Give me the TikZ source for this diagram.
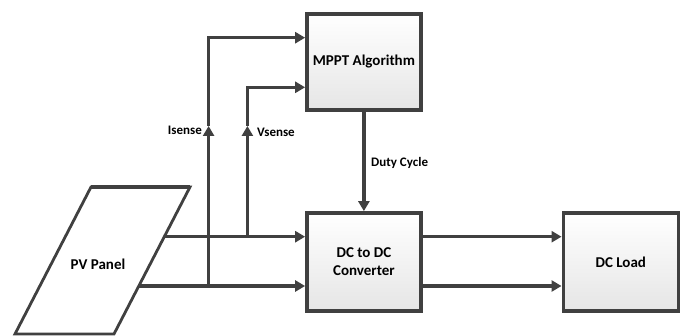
\documentclass[tikz,border=0pt]{standalone}
\usepackage{fontspec}
\setmainfont{Carlito}
\usetikzlibrary{arrows.meta}
\definecolor{ln}{HTML}{404040}
\tikzset{
  blk/.style={draw=ln, line width=3.5pt, top color=white, bottom color=black!10, minimum width=114pt, minimum height=96pt, inner sep=2pt, align=center, font=\fontsize{15}{18}\selectfont\bfseries},
  wire/.style={draw=ln, line width=3.5pt},
  arr/.style={wire, -{Triangle[length=10pt,width=11pt]}},
  lbl/.style={font=\fontsize{13}{15}\selectfont\bfseries, inner sep=0pt}
}
\begin{document}
\begin{tikzpicture}[x=1pt,y=-1pt]
\useasboundingbox (0,0) rectangle (682,336);
% boxes
\node[blk] (mppt) at (363.9,61.8) {MPPT Algorithm};
\node[blk, minimum height=98pt] (dcdc) at (363.9,261.9) {DC to DC\\Converter};
\node[blk, minimum height=98pt, minimum width=115pt] (load) at (620.8,261.9) {DC Load};
% PV panel
\coordinate (p1) at (91,187);
\coordinate (p2) at (190,187);
\coordinate (p3) at (114,334);
\coordinate (p4) at (15,334);
\draw[ln, line width=2.8pt, fill=white, line join=miter] (p1) -- (p2) -- (p3) -- (p4) -- cycle;
\draw[ln, line width=4pt] (p1) -- (p2);
\node[font=\fontsize{15}{18}\selectfont\bfseries] (pv) at (98,264) {PV Panel};
% output points on panel edge
\coordinate (pvA) at (164.3,236.7);
\coordinate (pvB) at (138.8,286);
% junctions and corners
\coordinate (jI) at (208.6,286);
\coordinate (jV) at (247.4,236.7);
\coordinate (mI) at (208.6,126);
\coordinate (mV) at (247.4,126);
\coordinate (cI) at (208.6,37.7);
\coordinate (cV) at (247.4,87.3);
% main wires
\draw[arr] (pvA) -- (pvA -| dcdc.west);
\draw[arr] (pvB) -- (pvB -| dcdc.west);
% sense wires
\draw[arr] (jI) -- (mI);
\draw[wire] (mI) -- (cI);
\draw[arr] ([yshift=1.75pt]cI) -- (cI) -- (cI -| mppt.west);
\draw[arr] (jV) -- (mV);
\draw[wire] (mV) -- (cV);
\draw[arr] ([yshift=1.75pt]cV) -- (cV) -- (cV -| mppt.west);
% duty cycle
\draw[arr] (mppt.south) -- (dcdc.north);
% outputs
\draw[arr] (pvA -| dcdc.east) -- (pvA -| load.west);
\draw[arr] (pvB -| dcdc.east) -- (pvB -| load.west);
% labels
\node[lbl, anchor=east] (li) at (202,130) {Isense};
\node[lbl, anchor=west] (lv) at (257,132) {Vsense};
\node[lbl, anchor=west] (ld) at (371,163) {Duty Cycle};
\end{tikzpicture}
\end{document}
